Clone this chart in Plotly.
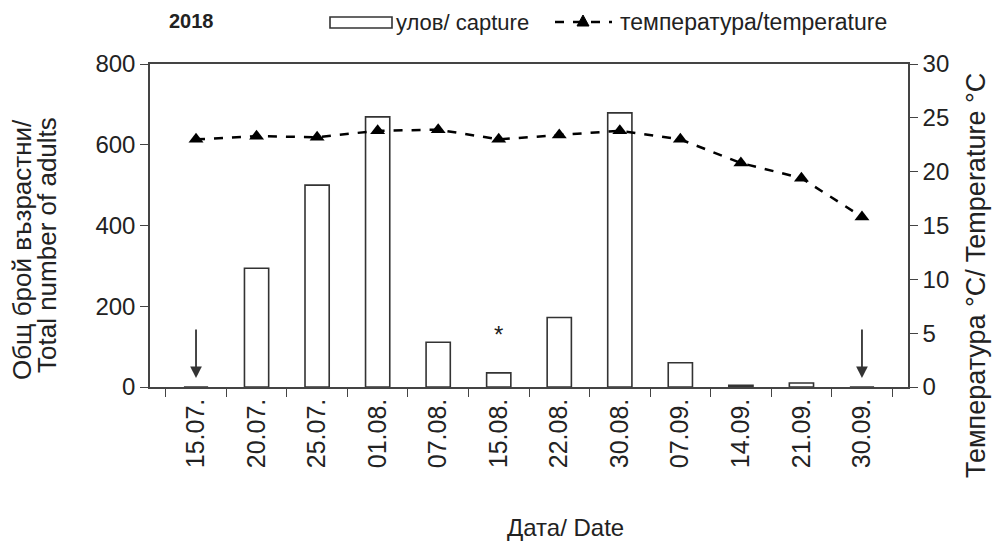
import plotly.graph_objects as go

dates = ["15.07.", "20.07.", "25.07.", "01.08.", "07.08.", "15.08.",
         "22.08.", "30.08.", "07.09.", "14.09.", "21.09.", "30.09."]
capture = [0, 294, 500, 669, 111, 35, 172, 679, 60, 4, 10, 0]
temperature = [23.0, 23.3, 23.2, 23.8, 23.9, 23.0, 23.4, 23.8, 23.0, 20.8, 19.4, 15.8]
arrow_dates = ["15.07.", "30.09."]
star_dates = ["15.08."]

FONT = "Liberation Sans, Arial, sans-serif"
TXT = "#222222"
AX = "#444444"

# plot area in pixels: x 150..908, y 64..387
L, R, T, B = 150, 908, 64, 387


def px(xp):
    return (xp - L) / (R - L)


def py(yp):
    return (B - yp) / (B - T)


def label(xp, yp, text, size, angle=0, xanchor="center", bold=False):
    return dict(x=px(xp), y=py(yp), xref="paper", yref="paper",
                text=f"<b>{text}</b>" if bold else text, textangle=angle,
                xanchor=xanchor, yanchor="middle", showarrow=False,
                font=dict(family=FONT, size=size, color=TXT))


fig = go.Figure()
fig.add_trace(go.Bar(
    x=dates, y=capture, name="улов/ capture", width=0.4,
    marker=dict(color="white", line=dict(color="#333333", width=1.6)),
))
fig.add_trace(go.Scatter(
    x=dates, y=temperature, name="температура/temperature", yaxis="y2",
    mode="lines+markers",
    line=dict(color="black", width=2.5, dash="dash"),
    marker=dict(symbol="triangle-up", size=13, color="black"),
))

annotations = []
for d in arrow_dates:
    annotations.append(dict(
        x=d, y=22, xref="x", yref="y", ax=0, ay=-50,
        showarrow=True, arrowhead=2, arrowsize=1.3, arrowwidth=1.8,
        arrowcolor="#333333", text="",
    ))
for d in star_dates:
    annotations.append(dict(
        x=d, y=130, xref="x", yref="y", text="*", showarrow=False,
        xanchor="center", yanchor="middle",
        font=dict(family=FONT, size=24, color=TXT),
    ))

annotations += [
    label(191, 21, "2018", 20, bold=True),
    label(394, 22, "улов/ capture", 22, xanchor="left"),
    label(618, 22, "температура/temperature", 23, xanchor="left"),
    label(565, 527, "Дата/ Date", 24),
    label(22, 250, "Общ брой възрастни/", 26, angle=-90),
    label(47, 245, "Total number of adults", 26, angle=-90),
    label(976, 276, "Температура °C/ Temperature °C", 27, angle=-90),
]

tri_cx, tri_cy = 583, 21
shapes = [
    dict(type="rect", xref="paper", yref="paper",
         x0=px(330), x1=px(392), y0=py(28), y1=py(17),
         line=dict(color="#333333", width=1.6), fillcolor="white"),
    dict(type="line", xref="paper", yref="paper",
         x0=px(555), x1=px(612), y0=py(22), y1=py(22),
         line=dict(color="black", width=2.5, dash="dash")),
    dict(type="path", xref="paper", yref="paper",
         path=(f"M {px(tri_cx - 6)},{py(tri_cy + 5)} L {px(tri_cx + 6)},{py(tri_cy + 5)} "
               f"L {px(tri_cx)},{py(tri_cy - 6)} Z"),
         fillcolor="black", line=dict(color="black", width=1)),
]

fig.update_layout(
    width=992, height=543,
    margin=dict(l=L, r=992 - R, t=T, b=543 - B, autoexpand=False),
    paper_bgcolor="white", plot_bgcolor="white",
    font=dict(family=FONT, size=24, color=TXT),
    showlegend=False,
    bargap=0.6,
    xaxis=dict(
        type="category", tickangle=-90, showline=True, linecolor=AX, linewidth=1.5,
        mirror=True, ticks="outside", ticklen=8, tickcolor=AX,
        tickson="boundaries", showgrid=False, tickfont=dict(size=25, color=TXT),
    ),
    yaxis=dict(
        range=[0, 800], dtick=200, showline=True, linecolor=AX, linewidth=1.5,
        ticks="outside", ticklen=8, tickcolor=AX, showgrid=False, zeroline=False,
        tickfont=dict(size=24, color=TXT),
    ),
    yaxis2=dict(
        range=[0, 30], dtick=5, overlaying="y", side="right", showline=True,
        linecolor=AX, linewidth=1.5, ticks="outside", ticklen=8,
        tickcolor=AX, showgrid=False, zeroline=False,
        tickfont=dict(size=24, color=TXT),
    ),
    annotations=annotations,
    shapes=shapes,
)

fig.write_html("out.html")
